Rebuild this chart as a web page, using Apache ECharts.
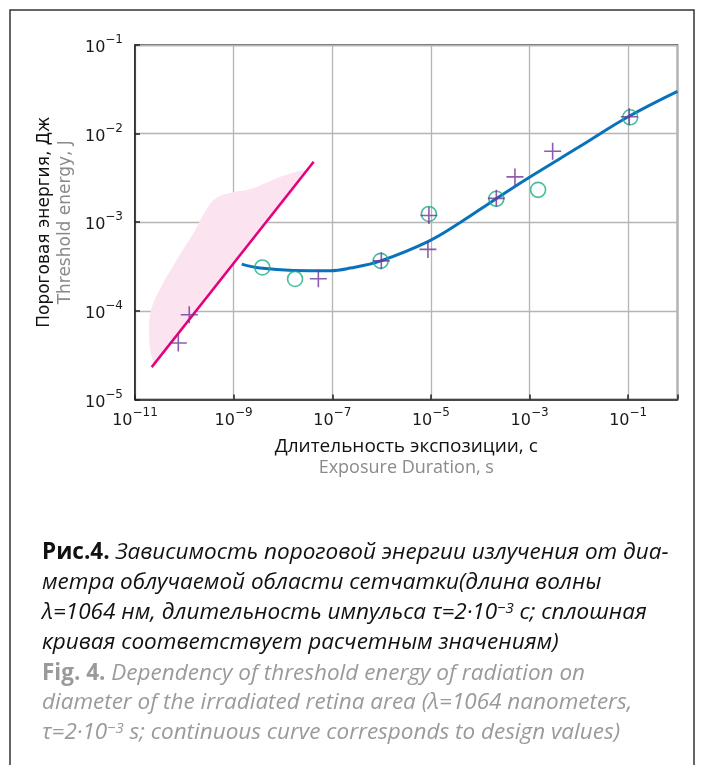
<!DOCTYPE html>
<html>
<head>
<meta charset="utf-8">
<script src="https://cdn.jsdelivr.net/npm/echarts@6/dist/echarts.min.js"></script>
<style>
  html, body { margin: 0; padding: 0; background: #fff; }
  #chart { width: 701px; height: 765px; }
</style>
</head>
<body>
<div id="chart"></div>
<script>
// exposure duration, s  /  threshold energy, J
const curveT = [1.46e-9, 3.44e-9, 1.63e-8, 9.0e-8, 2.3e-7, 9.6e-7, 8.7e-6, 4.0e-5, 2.0e-4, 9.8e-4, 1e-2, 1e-1, 1];
const curveE = [3.37e-4, 3.04e-4, 2.86e-4, 2.84e-4, 3.04e-4, 3.67e-4, 6.05e-4, 1.0e-3, 1.81e-3, 3.2e-3, 7.05e-3, 1.55e-2, 3.0e-2];

const pinkT = [2.18e-11, 4.2e-8];
const pinkE = [2.32e-5, 4.82e-3];

// shaded band (outline, left/top edge then back down along the line)
const bandT = [2.55e-11, 2.2e-11, 1.95e-11, 2.05e-11, 3.2e-11, 7.5e-11, 1.55e-10, 2.6e-10, 4.3e-10, 9.0e-10, 2.1e-9, 4.7e-9, 1.02e-8, 2.81e-8, 8.45e-10];
const bandE = [2.58e-5, 3.0e-5, 4.6e-5, 9.5e-5, 1.75e-4, 4.0e-4, 7.6e-4, 1.3e-3, 1.85e-3, 2.15e-3, 2.35e-3, 2.8e-3, 3.35e-3, 3.65e-3, 3.06e-4];

const circleT = [3.82e-9, 1.76e-8, 9.6e-7, 9.1e-6, 2.12e-4, 1.49e-3, 0.11];
const circleE = [3.09e-4, 2.29e-4, 3.67e-4, 1.24e-3, 1.84e-3, 2.32e-3, 1.53e-2];

const crossT = [7.55e-11, 1.26e-10, 5.22e-8, 9.87e-7, 9.1e-6, 8.7e-6, 2.12e-4, 5.06e-4, 2.94e-3, 0.105];
const crossE = [4.34e-5, 9.03e-5, 2.3e-4, 3.67e-4, 1.19e-3, 4.94e-4, 1.86e-3, 3.25e-3, 6.32e-3, 1.55e-2];

const xName = ['Длительность экспозиции, с', 'Exposure Duration, s'];
const yName = ['Пороговая энергия, Дж', 'Threshold energy, J'];

const captionLines = [
  '{rb|Рис.4.}{ri| Зависимость пороговой энергии излучения от диа-}',
  '{ri|метра облучаемой области сетчатки(длина волны}',
  '{ri|λ=1064 нм, длительность импульса τ=2·10}{rs|−3}{ri| с; сплошная}',
  '{ri|кривая соответствует расчетным значениям)}',
  '{eb|Fig. 4.}{ei| Dependency of threshold energy of radiation on}',
  '{ei|diameter of the irradiated retina area (λ=1064 nanometers,}',
  '{ei|τ=2·10}{es|−3}{ei| s; continuous curve corresponds to design values)}'
];
const captionY = [553, 583, 613, 643, 674, 703, 733];

const zip = (a, b) => a.map((v, i) => [v, b[i]]);

function powLabel(v) {
  const e = Math.round(Math.log10(v));
  if (e === 0) return '';
  return '{b|10}{s|' + (e < 0 ? '−' : '') + Math.abs(e) + '}';
}

const tickRich = {
  b: { fontFamily: 'DejaVu Sans', fontSize: 16, color: '#1a1a1a', lineHeight: 22, verticalAlign: 'bottom' },
  s: { fontFamily: 'DejaVu Sans', fontSize: 12, color: '#1a1a1a', lineHeight: 14, verticalAlign: 'top' }
};
const axisLine = { show: true, lineStyle: { color: '#222', width: 1.5 } };
const axisTick = { show: true, inside: true, length: 5, lineStyle: { color: '#222', width: 1.5 } };
const splitLine = { show: true, lineStyle: { color: '#b5b5b5', width: 1.3 } };

const capFont = 'Open Sans';
const rich = {
  rb: { fontFamily: capFont, fontSize: 22.5, fontWeight: 'bold', fill: '#111' },
  ri: { fontFamily: capFont, fontSize: 22.5, fontStyle: 'italic', fill: '#111' },
  rs: { fontFamily: capFont, fontSize: 15, fontStyle: 'italic', fill: '#111', verticalAlign: 'top' },
  eb: { fontFamily: capFont, fontSize: 22.5, fontWeight: 'bold', fill: '#9a9a9a' },
  ei: { fontFamily: capFont, fontSize: 22.5, fontStyle: 'italic', fill: '#9a9a9a' },
  es: { fontFamily: capFont, fontSize: 15, fontStyle: 'italic', fill: '#9a9a9a', verticalAlign: 'top' }
};

const chart = echarts.init(document.getElementById('chart'));

chart.setOption({
  animation: false,
  grid: {
    left: 135, top: 45, right: 23.5, bottom: 365.5,
    outerBoundsMode: 'none',
    show: true, borderColor: '#222', borderWidth: 1.5
  },
  graphic: [
    {
      type: 'rect', z: 100,
      shape: { x: 10, y: 10, width: 684, height: 800 },
      style: { fill: 'none', stroke: '#333', lineWidth: 1.5 }
    },
    ...captionLines.map((t, i) => ({
      type: 'text', x: 42, y: captionY[i], z: 100,
      style: { text: t, rich, verticalAlign: 'middle', fontSize: 22.5, fontFamily: capFont }
    }))
  ],
  xAxis: {
    type: 'log', logBase: 10, min: 1e-11, max: 1, interval: 2,
    axisLine, axisTick, splitLine,
    axisLabel: { formatter: powLabel, rich: tickRich, margin: 7 },
    name: '{a|' + xName[0] + '}\n{b|' + xName[1] + '}',
    nameLocation: 'middle', nameGap: 37,
    nameTextStyle: {
      rich: {
        a: { fontFamily: 'Open Sans', fontSize: 19, color: '#111', lineHeight: 21 },
        b: { fontFamily: 'Open Sans', fontSize: 18, color: '#8a8a8a', lineHeight: 21 }
      }
    }
  },
  yAxis: {
    type: 'log', logBase: 10, min: 1e-5, max: 1e-1, interval: 1,
    axisLine, axisTick, splitLine,
    axisLabel: { formatter: powLabel, rich: tickRich, margin: 12 },
    name: '{a|' + yName[0] + '}\n{b|' + yName[1] + '}',
    nameLocation: 'middle', nameGap: 56,
    nameTextStyle: {
      rich: {
        a: { fontFamily: 'DejaVu Sans', fontSize: 17, color: '#111', lineHeight: 21 },
        b: { fontFamily: 'DejaVu Sans', fontSize: 17, color: '#8a8a8a', lineHeight: 21 }
      }
    }
  },
  series: [
    {
      type: 'custom', silent: true, z: 1,
      data: [[1e-10, 1e-4]],
      renderItem: (params, api) => ({
        type: 'polygon',
        shape: { points: zip(bandT, bandE).map(p => api.coord(p)), smooth: 0.4 },
        style: { fill: '#fbe4ef', stroke: null }
      })
    },
    {
      type: 'line', data: zip(pinkT, pinkE), showSymbol: false, z: 3,
      lineStyle: { color: '#e6007e', width: 2.5 }
    },
    {
      type: 'line', data: zip(curveT, curveE), showSymbol: false, smooth: 0.4, z: 3,
      lineStyle: { color: '#0a72ba', width: 3 }
    },
    {
      type: 'scatter', data: zip(circleT, circleE), symbol: 'circle', symbolSize: 15, z: 4,
      itemStyle: { color: 'rgba(0,0,0,0)', borderColor: '#19ad86', borderWidth: 1.6 }
    },
    {
      type: 'scatter', data: zip(crossT, crossE), symbol: 'path://M10,0L10,20M0,10L20,10', symbolSize: 17, z: 5,
      itemStyle: { color: 'rgba(0,0,0,0)', borderColor: '#6f3597', borderWidth: 1.6 }
    }
  ]
});
</script>
</body>
</html>
